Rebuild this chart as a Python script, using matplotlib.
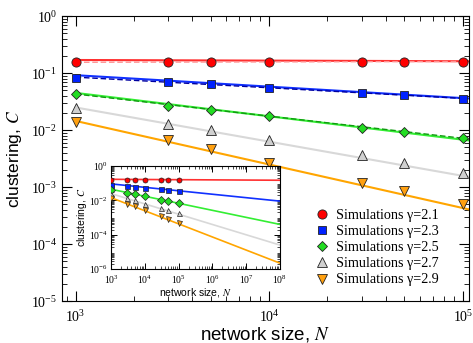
import matplotlib
matplotlib.use("Agg")
import matplotlib.pyplot as plt
from matplotlib.ticker import LogLocator, NullFormatter

plt.rcParams['mathtext.fontset'] = 'stix'

# simulation points
N_sim = [1e3, 3e3, 5e3, 1e4, 3e4, 5e4, 1e5]
C_21 = [0.155, 0.156, 0.156, 0.156, 0.156, 0.157, 0.155]
C_23 = [0.082, 0.069, 0.064, 0.055, 0.045, 0.041, 0.035]
C_25 = [0.043, 0.027, 0.023, 0.018, 0.011, 0.0093, 0.0072]
C_27 = [0.024, 0.013, 0.010, 0.0066, 0.0036, 0.0026, 0.0018]
C_29 = [0.014, 0.0066, 0.0047, 0.0027, 0.0012, 0.00085, 0.0005]

# theory lines (straight in log-log), endpoints
N_line = [1e3, 1e8]
L_21 = [0.17, 0.15]
L_23 = [0.092, 0.0091]
L_25 = [0.045, 0.0004]
L_27 = [0.025, 2.5e-5]
L_29 = [0.0145, 2.2e-6]

# dashed lines in the main panel
N_dash = [1e3, 1e5]
D_21 = [0.155, 0.16]
D_23 = [0.085, 0.036]
D_25 = [0.043, 0.0072]

labels = ['Simulations γ=2.1', 'Simulations γ=2.3', 'Simulations γ=2.5',
          'Simulations γ=2.7', 'Simulations γ=2.9']
sims = [C_21, C_23, C_25, C_27, C_29]
lines = [L_21, L_23, L_25, L_27, L_29]
mcolors = ['#ff0000', '#0022ff', '#22dd22', '#d0d0d0', '#ffa010']
lcolors = ['#ff3030', '#1030ff', '#33ee33', '#d8d8d8', '#ffa500']
markers = ['o', 's', 'D', '^', 'v']
msizes = [6.6, 6.0, 5.2, 6.6, 6.6]

fig = plt.figure(figsize=(4.73, 3.43), dpi=100)
ax = fig.add_axes([0.131, 0.122, 0.861, 0.831])

for L, c in zip(lines, lcolors):
    ax.plot(N_line, L, '-', color=c, lw=1.5, zorder=2)
for D, c in zip([D_21, D_23, D_25], ['#ff9090', '#0000a0', '#119911']):
    ax.plot(N_dash, D, '--', color=c, lw=1.0, dashes=(4, 2), zorder=2)
for C, c, m, ms, lab in zip(sims, mcolors, markers, msizes, labels):
    ax.plot(N_sim, C, linestyle='none', marker=m, ms=ms, mfc=c, mec='#222222',
            mew=0.6, label=lab, zorder=3)

ax.set_xscale('log')
ax.set_yscale('log')
ax.set_xlim(850, 1.08e5)
ax.set_ylim(1e-5, 1)
ax.xaxis.set_minor_locator(LogLocator(base=10, subs=range(2, 10), numticks=20))
ax.yaxis.set_minor_locator(LogLocator(base=10, subs=range(2, 10), numticks=20))
ax.xaxis.set_minor_formatter(NullFormatter())
ax.yaxis.set_minor_formatter(NullFormatter())
ax.tick_params(which='both', direction='in', top=True, right=True,
               labelfontfamily='Liberation Serif', labelsize=10)
ax.tick_params(which='major', length=7, width=0.8)
ax.tick_params(which='minor', length=3.5, width=0.6)
ax.tick_params(axis='x', pad=6)
ax.set_xlabel('network size, $\\mathit{N}$', family='Liberation Sans', fontsize=13.5, labelpad=0)
ax.set_ylabel('clustering, $\\mathit{C}$', family='Liberation Sans', fontsize=12.5, labelpad=5)

ax.legend(loc='upper left', bbox_to_anchor=(313 / 473, 1 - 209 / 343),
          bbox_transform=fig.transFigure, frameon=False, borderaxespad=0,
          borderpad=0, handletextpad=0.45, labelspacing=0.22, handlelength=1.2,
          prop={'family': 'Liberation Serif', 'size': 10.2})

# inset
ins = fig.add_axes([0.2347, 0.2157, 0.357, 0.300])
ins.set_facecolor('white')
for L, c in zip(lines, lcolors):
    ins.plot(N_line, L, '-', color=c, lw=1.2, zorder=2)
for C, c, m in zip(sims, mcolors, markers):
    ins.plot(N_sim, C, linestyle='none', marker=m, ms=3.6, mfc=c, mec='#222222',
             mew=0.5, zorder=3)
ins.set_xscale('log')
ins.set_yscale('log')
ins.set_xlim(1e3, 1e8)
ins.set_ylim(1e-6, 1)
ins.set_xticks([1e3, 1e4, 1e5, 1e6, 1e7, 1e8])
ins.set_yticks([1, 1e-2, 1e-4, 1e-6])
ins.xaxis.set_minor_locator(LogLocator(base=10, subs=range(2, 10), numticks=20))
ins.yaxis.set_minor_locator(LogLocator(base=10, subs=range(2, 10), numticks=20))
ins.xaxis.set_minor_formatter(NullFormatter())
ins.yaxis.set_minor_formatter(NullFormatter())
ins.tick_params(which='both', direction='in', top=True, right=True,
                labelfontfamily='Liberation Serif', labelsize=7)
ins.tick_params(axis='x', pad=3)
ins.tick_params(axis='y', pad=2.5)
ins.tick_params(which='major', length=4, width=0.7)
ins.tick_params(which='minor', length=2, width=0.5)
ins.set_xlabel('network size, $\\mathit{N}$', family='Liberation Sans', fontsize=7.5, labelpad=0.5)
ins.set_ylabel('clustering, $\\mathit{C}$', family='Liberation Sans', fontsize=7.5, labelpad=0)

fig.savefig('out.png', dpi=100)
